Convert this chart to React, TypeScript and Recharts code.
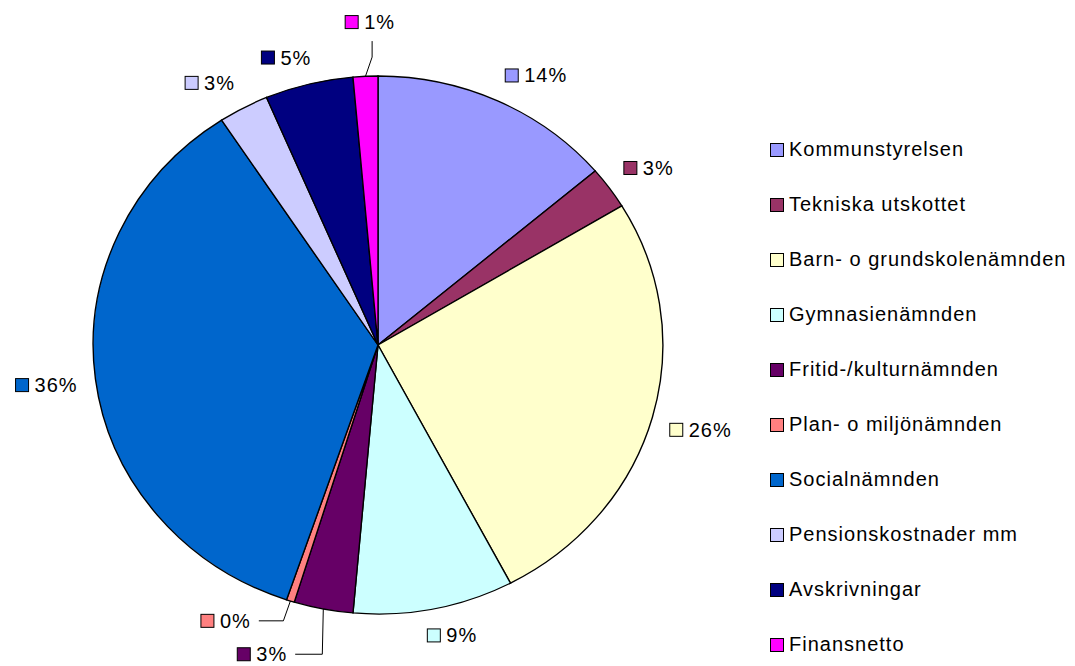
import { PieChart, Pie, Cell, Legend } from "recharts";

const categories = [
  "Kommunstyrelsen",
  "Tekniska utskottet",
  "Barn- o grundskolenämnden",
  "Gymnasienämnden",
  "Fritid-/kulturnämnden",
  "Plan- o miljönämnden",
  "Socialnämnden",
  "Pensionskostnader mm",
  "Avskrivningar",
  "Finansnetto",
];
const shares = [13.8, 2.55, 25.95, 9.1, 3.35, 0.45, 35.55, 2.85, 5.0, 1.4];
const colors = [
  "#9999FF",
  "#993366",
  "#FFFFCC",
  "#CCFFFF",
  "#660066",
  "#FF8080",
  "#0066CC",
  "#CCCCFF",
  "#000080",
  "#FF00FF",
];

const data = categories.map((name, i) => ({ name, value: shares[i] }));

// the original picture is a little wider than tall
const SX = 1.059;
const RAD = Math.PI / 180;
const FONT = '"Liberation Sans", Arial, sans-serif';
const FS = 20;
const LS = 1;

// labels that Excel moved and joined with a leader line
const leaders: Record<number, { dTheta: number; dist: number; elbowDx: number }> = {
  4: { dTheta: 8.4, dist: 328, elbowDx: -1 },
  5: { dTheta: 9.6, dist: 311, elbowDx: -7 },
  9: { dTheta: 1.2, dist: 323, elbowDx: 0 },
};

const textWidth = (s: string) => {
  let w = 0;
  for (const c of s) w += c === "%" ? 0.889 : 0.556;
  return w * FS + s.length * LS;
};

const clamp = (v: number) => Math.max(-1, Math.min(1, v));

const renderLabel = (props: any) => {
  const { cx, cy, midAngle, outerRadius, percent, index, fill } = props;
  const theta = 90 - midAngle; // degrees clockwise from top
  const at = (t: number, r: number) => ({
    x: cx + Math.sin(t * RAD) * r * SX,
    y: cy - Math.cos(t * RAD) * r,
  });
  const text = `${Math.round(percent * 100)}%`;
  const w = 19 + textWidth(text);
  const h = 20;
  const lead = leaders[index];
  let lx: number;
  let ly: number;
  let line: string | null = null;
  if (lead) {
    const c = at(theta + lead.dTheta, lead.dist);
    lx = c.x;
    ly = c.y;
    const edge = at(theta, outerRadius);
    if (Math.cos(theta * RAD) < 0) {
      const endX = lx + w / 2 + 8;
      line = `M${edge.x},${edge.y}L${edge.x + lead.elbowDx},${ly}L${endX},${ly}`;
    } else {
      const ex = lx + 2;
      const ey = ly + h / 2 + 9;
      line = `M${edge.x},${edge.y}L${ex},${ey + 16}L${ex},${ey}`;
    }
  } else {
    const a = at(theta, outerRadius + 17);
    lx = a.x + (w / 2) * clamp(3 * Math.sin(theta * RAD));
    ly = a.y - (h / 2) * clamp(3 * Math.cos(theta * RAD));
  }
  const left = lx - w / 2;
  return (
    <g key={`lbl-${index}`}>
      {line && <path d={line} fill="none" stroke="#000" strokeWidth={1} />}
      <rect x={left} y={ly - 6.5} width={13} height={13} fill={fill} stroke="#000" strokeWidth={1} />
      <text
        x={left + 19}
        y={ly + 7}
        fontFamily={FONT}
        fontSize={FS}
        letterSpacing={LS}
        fill="#000"
      >
        {text}
      </text>
    </g>
  );
};

const renderLegend = (props: any) => {
  const items = [...(props.payload || [])].sort(
    (a: any, b: any) => categories.indexOf(a.value) - categories.indexOf(b.value)
  );
  return (
    <div style={{ fontFamily: FONT, fontSize: FS, letterSpacing: LS, color: "#000" }}>
      {items.map((e: any) => (
        <div key={e.value} style={{ height: 55, display: "flex", alignItems: "center" }}>
          <span
            style={{
              display: "inline-block",
              width: 12,
              height: 12,
              border: "1px solid #000",
              background: colors[categories.indexOf(e.value)],
              marginRight: 5,
            }}
          />
          <span>{e.value}</span>
        </div>
      ))}
    </div>
  );
};

export default function App() {
  return (
    <div style={{ position: "absolute", left: 0, top: 0, background: "#fff" }}>
      <style>{`.recharts-pie-sector { transform-origin: 378px 345px; transform: scaleX(${SX}); }`}</style>
      <PieChart width={1075} height={666} margin={{ top: 0, right: 0, bottom: 0, left: 0 }}>
        <Pie
          data={data}
          dataKey="value"
          nameKey="name"
          cx={378}
          cy={345}
          outerRadius={269}
          startAngle={90}
          endAngle={-270}
          stroke="#000"
          strokeWidth={1.3}
          label={renderLabel}
          labelLine={false}
          isAnimationActive={false}
        >
          {data.map((d, i) => (
            <Cell key={d.name} fill={colors[i]} />
          ))}
        </Pie>
        <Legend
          layout="vertical"
          align="center"
          verticalAlign="middle"
          itemSorter={null as any}
          content={renderLegend}
          wrapperStyle={{ left: 770, top: 122, width: 305 }}
        />
      </PieChart>
    </div>
  );
}
